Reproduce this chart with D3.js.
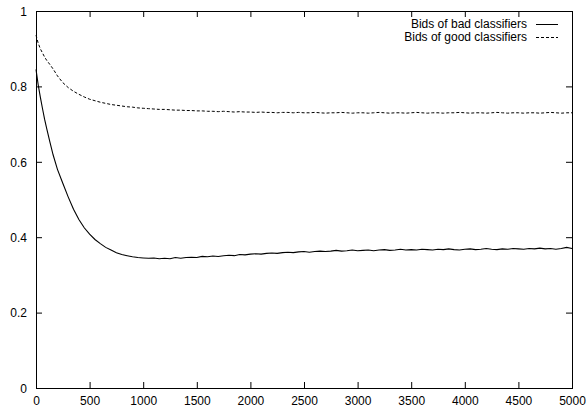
<!DOCTYPE html>
<html>
<head>
<meta charset="utf-8">
<script src="https://cdn.jsdelivr.net/npm/d3@7"></script>
<style>
  body { margin: 0; background: #fff; }
  svg { display: block; font-family: "Liberation Sans", Arial, sans-serif; }
</style>
</head>
<body>
<svg id="chart" width="588" height="414"></svg>
<script>
const steps = [
  0, 20, 40, 60, 80, 100, 130, 160, 200, 250,
  300, 350, 400, 450, 500, 550, 600, 650, 700, 750,
  800, 850, 900, 950, 1000, 1050, 1100, 1150, 1200, 1250,
  1300, 1350, 1400, 1450, 1500, 1550, 1600, 1650, 1700, 1750,
  1800, 1850, 1900, 1950, 2000, 2050, 2100, 2150, 2200, 2250,
  2300, 2350, 2400, 2450, 2500, 2550, 2600, 2650, 2700, 2750,
  2800, 2850, 2900, 2950, 3000, 3050, 3100, 3150, 3200, 3250,
  3300, 3350, 3400, 3450, 3500, 3550, 3600, 3650, 3700, 3750,
  3800, 3850, 3900, 3950, 4000, 4050, 4100, 4150, 4200, 4250,
  4300, 4350, 4400, 4450, 4500, 4550, 4600, 4650, 4700, 4750,
  4800, 4850, 4900, 4950, 5000
];

const badBids = [
  .845, .805, .772, .742, .713, .688, .652, .618, .580, .543,
  .507, .474, .447, .425, .408, .394, .383, .373, .366, .359,
  .354, .351, .348, .346, .345, .344, .345, .343, .344, .343,
  .346, .344, .346, .347, .346, .349, .348, .350, .349, .351,
  .352, .351, .354, .353, .355, .356, .355, .357, .358, .357,
  .359, .360, .359, .361, .362, .360, .362, .363, .362, .363,
  .365, .363, .364, .366, .364, .365, .366, .364, .366, .367,
  .365, .366, .368, .366, .367, .366, .368, .367, .366, .368,
  .367, .369, .367, .366, .368, .369, .367, .368, .370, .368,
  .367, .369, .368, .370, .369, .368, .370, .369, .371, .369,
  .370, .368, .370, .373, .370
];

const goodBids = [
  .936, .915, .900, .889, .878, .869, .858, .846, .828, .810,
  .797, .787, .779, .772, .766, .762, .758, .755, .752, .750,
  .748, .746, .745, .743, .742, .741, .740, .739, .739, .738,
  .737, .737, .736, .736, .735, .735, .734, .734, .733, .734,
  .733, .732, .733, .732, .732, .731, .732, .731, .731, .730,
  .731, .731, .730, .731, .730, .730, .731, .730, .729, .730,
  .730, .731, .730, .729, .730, .730, .729, .730, .731, .730,
  .729, .730, .730, .729, .730, .731, .730, .729, .730, .730,
  .729, .730, .730, .731, .730, .729, .730, .730, .729, .730,
  .731, .730, .729, .730, .730, .729, .730, .730, .729, .730,
  .731, .730, .729, .730, .730
];

const xTicks = [0, 500, 1000, 1500, 2000, 2500, 3000, 3500, 4000, 4500, 5000];
const yTicks = [0, 0.2, 0.4, 0.6, 0.8, 1];
const seriesNames = ["Bids of bad classifiers", "Bids of good classifiers"];

const margin = { top: 11, right: 16, bottom: 26, left: 36 };
const width = 588 - margin.left - margin.right;
const height = 414 - margin.top - margin.bottom;

const svg = d3.select("#chart");
const g = svg.append("g")
  .attr("transform", `translate(${margin.left},${margin.top})`);

const x = d3.scaleLinear().domain([0, 5000]).range([0, width]);
const y = d3.scaleLinear().domain([0, 1]).range([height, 0]);

// gnuplot style: inward ticks on all four sides
const tick = 6;
const xb = g.append("g").attr("transform", `translate(0,${height})`)
  .call(d3.axisBottom(x).tickValues(xTicks).tickSizeInner(-tick).tickSizeOuter(0).tickPadding(8).tickFormat(d3.format("d")));
const xt = g.append("g")
  .call(d3.axisTop(x).tickValues(xTicks).tickSizeInner(-tick).tickSizeOuter(0).tickFormat(""));
const yl = g.append("g")
  .call(d3.axisLeft(y).tickValues(yTicks).tickSizeInner(-tick).tickSizeOuter(0).tickPadding(9).tickFormat(d3.format("")));
const yr = g.append("g").attr("transform", `translate(${width},0)`)
  .call(d3.axisRight(y).tickValues(yTicks).tickSizeInner(-tick).tickSizeOuter(0).tickFormat(""));

[xb, xt, yl, yr].forEach(a => {
  a.select(".domain").remove();
  a.selectAll("text").style("font-size", "12px").attr("fill", "#000");
  a.selectAll(".tick line").attr("stroke", "#000");
});
yl.selectAll("text").attr("dy", "0.35em");

g.append("rect")
  .attr("x", 0.5).attr("y", 0.5)
  .attr("width", width).attr("height", height)
  .attr("fill", "none").attr("stroke", "#000").attr("stroke-width", 1)
  .attr("shape-rendering", "crispEdges");

const line = d3.line()
  .x((d, i) => x(steps[i]))
  .y(d => y(d));

g.append("path").datum(badBids)
  .attr("d", line).attr("fill", "none")
  .attr("stroke", "#000").attr("stroke-width", 1.1);

g.append("path").datum(goodBids)
  .attr("d", line).attr("fill", "none")
  .attr("stroke", "#000").attr("stroke-width", 1)
  .attr("stroke-dasharray", "3,2");

// legend
const legend = g.append("g").attr("transform", `translate(${width - 45},0)`);
seriesNames.forEach((name, i) => {
  const ly = 13 + i * 13;
  legend.append("text")
    .attr("x", 0).attr("y", ly).attr("dy", "0.35em")
    .attr("text-anchor", "end")
    .style("font-size", "12px")
    .text(name);
  legend.append("line")
    .attr("x1", 9).attr("x2", 31)
    .attr("y1", ly + 0.5).attr("y2", ly + 0.5)
    .attr("stroke", "#000").attr("stroke-width", 1)
    .attr("stroke-dasharray", i === 0 ? null : "3,2");
});
</script>
</body>
</html>
